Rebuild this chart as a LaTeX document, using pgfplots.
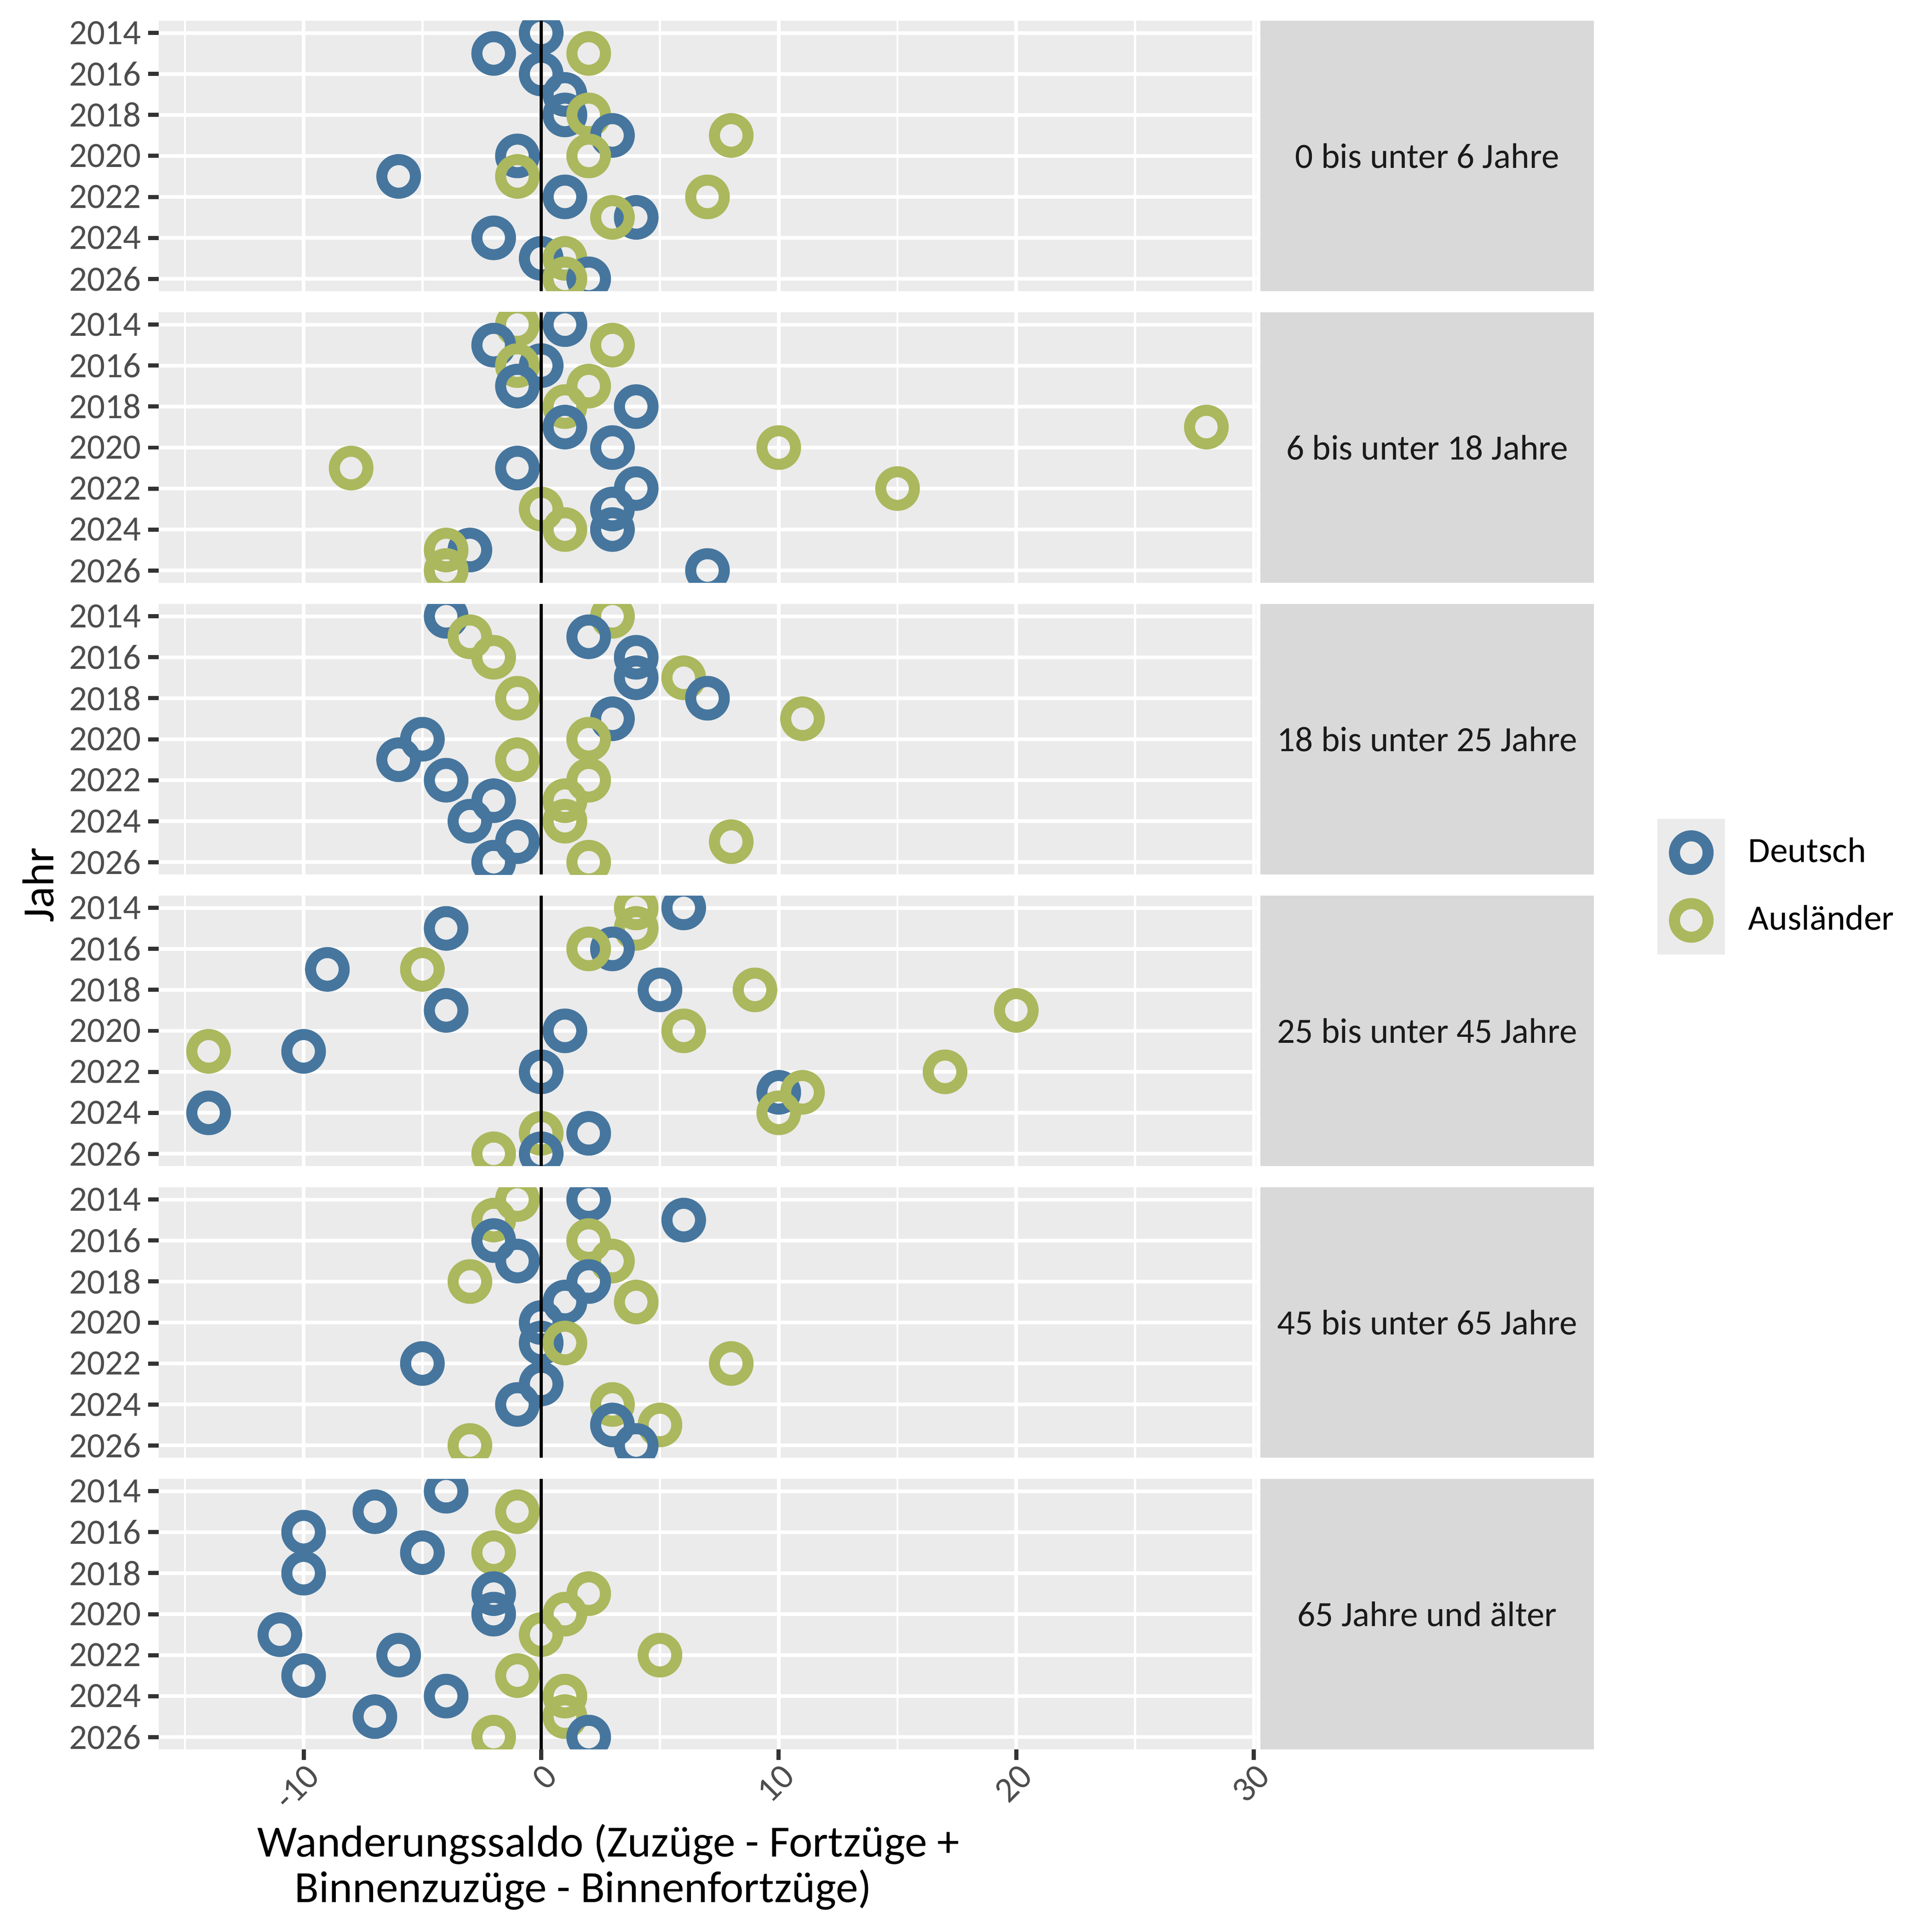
\documentclass[border=0pt]{standalone}
\usepackage{pgfplots}
\pgfplotsset{compat=1.18}
\usepackage{pgfplotstable}
\usepackage{fontspec}
\setmainfont{Carlito}
\definecolor{dblue}{HTML}{46769E}
\definecolor{dgreen}{HTML}{ABB85D}
\definecolor{bgc}{HTML}{EBEBEB}
\definecolor{stripc}{HTML}{D9D9D9}
\definecolor{tickc}{HTML}{333333}
\definecolor{labc}{HTML}{4D4D4D}
\definecolor{stxt}{HTML}{1A1A1A}

% Panel 1: 0 bis unter 6 Jahre
\pgfplotstableread{
x y c
0 2014 D
-2 2015 D
2 2015 A
0 2016 D
1 2017 D
1 2018 D
2 2018 A
3 2019 D
8 2019 A
-1 2020 D
2 2020 A
-6 2021 D
-1 2021 A
1 2022 D
7 2022 A
4 2023 D
3 2023 A
-2 2024 D
0 2025 D
1 2025 A
2 2026 D
1 2026 A
}\tabA
% Panel 2: 6 bis unter 18 Jahre
\pgfplotstableread{
x y c
1 2014 D
-1 2014 A
-2 2015 D
3 2015 A
0 2016 D
-1 2016 A
-1 2017 D
2 2017 A
4 2018 D
1 2018 A
1 2019 D
28 2019 A
3 2020 D
10 2020 A
-1 2021 D
-8 2021 A
4 2022 D
15 2022 A
3 2023 D
0 2023 A
3 2024 D
1 2024 A
-3 2025 D
-4 2025 A
7 2026 D
-4 2026 A
}\tabB
% Panel 3: 18 bis unter 25 Jahre
\pgfplotstableread{
x y c
-4 2014 D
3 2014 A
2 2015 D
-3 2015 A
4 2016 D
-2 2016 A
4 2017 D
6 2017 A
7 2018 D
-1 2018 A
3 2019 D
11 2019 A
-5 2020 D
2 2020 A
-6 2021 D
-1 2021 A
-4 2022 D
2 2022 A
-2 2023 D
1 2023 A
-3 2024 D
1 2024 A
-1 2025 D
8 2025 A
-2 2026 D
2 2026 A
}\tabC
% Panel 4: 25 bis unter 45 Jahre
\pgfplotstableread{
x y c
6 2014 D
4 2014 A
-4 2015 D
4 2015 A
3 2016 D
2 2016 A
-9 2017 D
-5 2017 A
5 2018 D
9 2018 A
-4 2019 D
20 2019 A
1 2020 D
6 2020 A
-10 2021 D
-14 2021 A
0 2022 D
17 2022 A
10 2023 D
11 2023 A
-14 2024 D
10 2024 A
2 2025 D
0 2025 A
0 2026 D
-2 2026 A
}\tabD
% Panel 5: 45 bis unter 65 Jahre
\pgfplotstableread{
x y c
2 2014 D
-1 2014 A
6 2015 D
-2 2015 A
-2 2016 D
2 2016 A
-1 2017 D
3 2017 A
2 2018 D
-3 2018 A
1 2019 D
4 2019 A
0 2020 D
0 2021 D
1 2021 A
-5 2022 D
8 2022 A
0 2023 D
-1 2024 D
3 2024 A
3 2025 D
5 2025 A
4 2026 D
-3 2026 A
}\tabE
% Panel 6: 65 Jahre und aelter
\pgfplotstableread{
x y c
-4 2014 D
-7 2015 D
-1 2015 A
-10 2016 D
-5 2017 D
-2 2017 A
-10 2018 D
-2 2019 D
2 2019 A
-2 2020 D
1 2020 A
-11 2021 D
0 2021 A
-6 2022 D
5 2022 A
-10 2023 D
-1 2023 A
-4 2024 D
1 2024 A
-7 2025 D
1 2025 A
2 2026 D
-2 2026 A
}\tabF

\newcommand{\smallfont}{\fontsize{9.3}{11}\selectfont}
\newcommand{\titlefont}{\fontsize{11.7}{14}\selectfont}

\pgfplotsset{
  panel/.style={
    scale only axis, width=287.39pt, height=70.82pt, anchor=south west,
    xmin=-16.1, xmax=30.1, ymin=2013.4, ymax=2026.6, y dir=reverse,
    xtick={-10,0,10,20,30}, minor xtick={-15,-5,5,15,25},
    ytick={2014,2016,...,2026}, yticklabels={2014,2016,2018,2020,2022,2024,2026},
    grid=both,
    major grid style={white, line width=0.96pt},
    minor grid style={white, line width=0.54pt},
    axis background/.style={fill=bgc},
    axis line style={draw=none},
    tick align=outside, tick pos=left,
    major tick length=2.77pt, minor tick length=0pt,
    minor tick style={draw=none},
    ytick style={tickc, line width=1.08pt},
    yticklabel style={labc, anchor=east, inner sep=0pt, xshift=-1.6pt, font=\smallfont},
    clip marker paths=true,
    /pgf/number format/assume math mode=true,
  },
  upper/.style={xticklabels={}, xtick style={draw=none}},
  pts/.style={scatter, only marks, forget plot, scatter src=explicit symbolic, mark size=4.4pt,
    every mark/.append style={line width=2.89pt},
    scatter/classes={D={mark=o, draw=dblue, line width=2.89pt}, A={mark=o, draw=dgreen, line width=2.89pt}}},
}
\newcommand{\vzero}{\draw[black, line width=0.75pt] (axis cs:0,2013.4) -- (axis cs:0,2026.6);}

\begin{document}
\begin{tikzpicture}
\useasboundingbox (0,0) rectangle (505.89pt,505.89pt);

\begin{axis}[panel, upper, at={(41.555pt,429.65pt)}]
\addplot[pts] table[x=x,y=y,meta=c]{\tabA};
\vzero
\end{axis}

\begin{axis}[panel, upper, at={(41.555pt,353.28pt)}]
\addplot[pts] table[x=x,y=y,meta=c]{\tabB};
\vzero
\end{axis}

\begin{axis}[panel, upper, at={(41.555pt,276.91pt)},
  legend style={at={(axis description cs:1.36548,0.2059)}, anchor=north west,
    draw=none, fill=none, inner sep=0pt, outer sep=0pt, row sep=0pt, column sep=6.1pt,
    font=\smallfont, nodes={inner sep=0pt, outer sep=0pt}},
  legend cell align=left]
\addplot[pts] table[x=x,y=y,meta=c]{\tabC};
\vzero
\addlegendimage{legend image code/.code={\fill[bgc] (-8.67pt,-8.67pt) rectangle (8.67pt,8.67pt);
  \draw[only marks, mark=o, mark size=4.4pt, dblue, line width=2.89pt] plot coordinates {(0pt,0pt)};}}
\addlegendentry{Deutsch}
\addlegendimage{legend image code/.code={\fill[bgc] (-8.67pt,-8.67pt) rectangle (8.67pt,8.67pt);
  \draw[only marks, mark=o, mark size=4.4pt, dgreen, line width=2.89pt] plot coordinates {(0pt,0pt)};}}
\addlegendentry{Ausländer}
\end{axis}

\begin{axis}[panel, upper, at={(41.555pt,200.55pt)}]
\addplot[pts] table[x=x,y=y,meta=c]{\tabD};
\vzero
\end{axis}

\begin{axis}[panel, upper, at={(41.555pt,124.18pt)}]
\addplot[pts] table[x=x,y=y,meta=c]{\tabE};
\vzero
\end{axis}

\begin{axis}[panel, at={(41.555pt,47.82pt)},
  xtick style={tickc, line width=1.08pt},
  xticklabel style={labc, rotate=45, anchor=north east, inner sep=0pt, yshift=-0.5pt, font=\smallfont}]
\addplot[pts] table[x=x,y=y,meta=c]{\tabF};
\vzero
\end{axis}

% facet strips
\foreach \b/\lab in {429.65/{0 bis unter 6 Jahre}, 353.28/{6 bis unter 18 Jahre}, 276.91/{18 bis unter 25 Jahre}, 200.55/{25 bis unter 45 Jahre}, 124.18/{45 bis unter 65 Jahre}, 47.82/{65 Jahre und älter}}{
  \fill[stripc] (330.03pt,\b pt) rectangle (417.36pt,\b pt+70.82pt);
  \node[text=stxt, font=\smallfont, inner sep=0pt] at (373.70pt,\b pt+35.41pt) {\lab};
}

% axis titles
\node[anchor=base, inner sep=0pt, font=\titlefont] at (159.36pt,19.75pt) {Wanderungssaldo (Zuzüge - Fortzüge +};
\node[anchor=base, inner sep=0pt, font=\titlefont] at (152.73pt,7.71pt) {Binnenzuzüge - Binnenfortzüge)};
\node[rotate=90, inner sep=0pt, font=\titlefont] at (10.0pt,274.14pt) {Jahr};
\end{tikzpicture}
\end{document}
